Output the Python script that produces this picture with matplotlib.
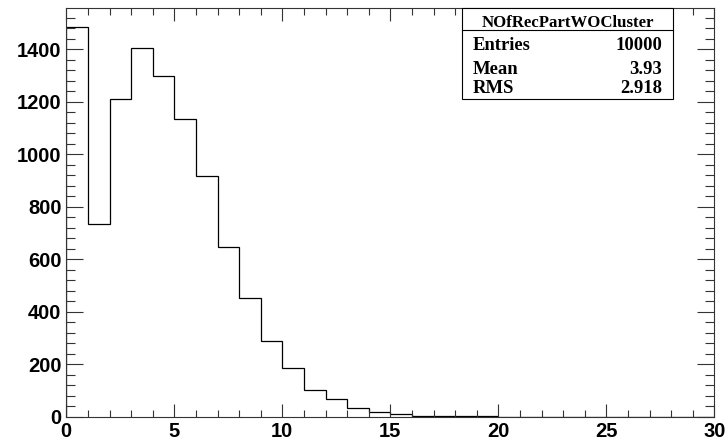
import numpy as np
import matplotlib
matplotlib.use("Agg")
import matplotlib.pyplot as plt
from matplotlib.patches import Rectangle
from matplotlib.ticker import MultipleLocator

# bin contents, one bin per unit from 0 to 30
counts = [1483, 734, 1209, 1405, 1298, 1134, 918, 647, 450, 287,
          184, 100, 66, 34, 16, 10, 3, 2, 1, 1,
          0, 0, 0, 0, 0, 0, 0, 0, 0, 0]
edges = np.arange(0, 31)

hist_name = "NOfRecPartWOCluster"
stat_names = ["Entries", "Mean", "RMS"]
stat_values = ["10000", "3.93", "2.918"]

fig = plt.figure(figsize=(7.27, 4.43), dpi=100)
ax = fig.add_axes([66.3 / 727, 26.5 / 443, 648 / 727, 408.5 / 443])

ax.stairs(counts, edges, color="black", linewidth=0.9, baseline=0)

ax.set_xlim(0, 30)
ax.set_ylim(0, 1.05 * max(counts))

# ROOT style axes: ticks inside on all four sides
ax.xaxis.set_major_locator(MultipleLocator(5))
ax.xaxis.set_minor_locator(MultipleLocator(1))
ax.yaxis.set_major_locator(MultipleLocator(200))
ax.yaxis.set_minor_locator(MultipleLocator(40))
ax.tick_params(axis="both", which="both", direction="in",
               top=True, right=True, width=0.8, color="#333333")
ax.tick_params(axis="x", which="major", length=9.4, pad=4)
ax.tick_params(axis="x", which="minor", length=5)
ax.tick_params(axis="y", which="major", length=12.5, pad=3.5)
ax.tick_params(axis="y", which="minor", length=6.5)
for spine in ax.spines.values():
    spine.set_linewidth(0.8)
    spine.set_color("#333333")

for lab in ax.get_xticklabels() + ax.get_yticklabels():
    lab.set_family("Liberation Sans")
    lab.set_fontweight("bold")
    lab.set_fontsize(14.5)

# statistics box
bx0, bx1 = 0.6106, 0.9363
by0, by1 = 0.7772, 1.0
box = Rectangle((bx0, by0), bx1 - bx0, by1 - by0, transform=ax.transAxes,
                facecolor="white", edgecolor="black", linewidth=0.8,
                zorder=5, clip_on=False)
ax.add_patch(box)
ax.plot([bx0, bx1], [0.9461, 0.9461], transform=ax.transAxes,
        color="black", linewidth=0.8, zorder=6, clip_on=False)

serif = dict(family="Liberation Serif", fontweight="bold", zorder=7,
             transform=ax.transAxes)
ax.text((bx0 + bx1) / 2, 0.9547, hist_name, ha="center", va="baseline",
        fontsize=12.1, **serif)
rows_y = [0.8972, 0.8384, 0.7919]
for name, val, y in zip(stat_names, stat_values, rows_y):
    ax.text(0.6276, y, name, ha="left", va="baseline", fontsize=13.4, **serif)
    ax.text(0.9192, y, val, ha="right", va="baseline", fontsize=13.4, **serif)

fig.savefig("out.png", dpi=100)
